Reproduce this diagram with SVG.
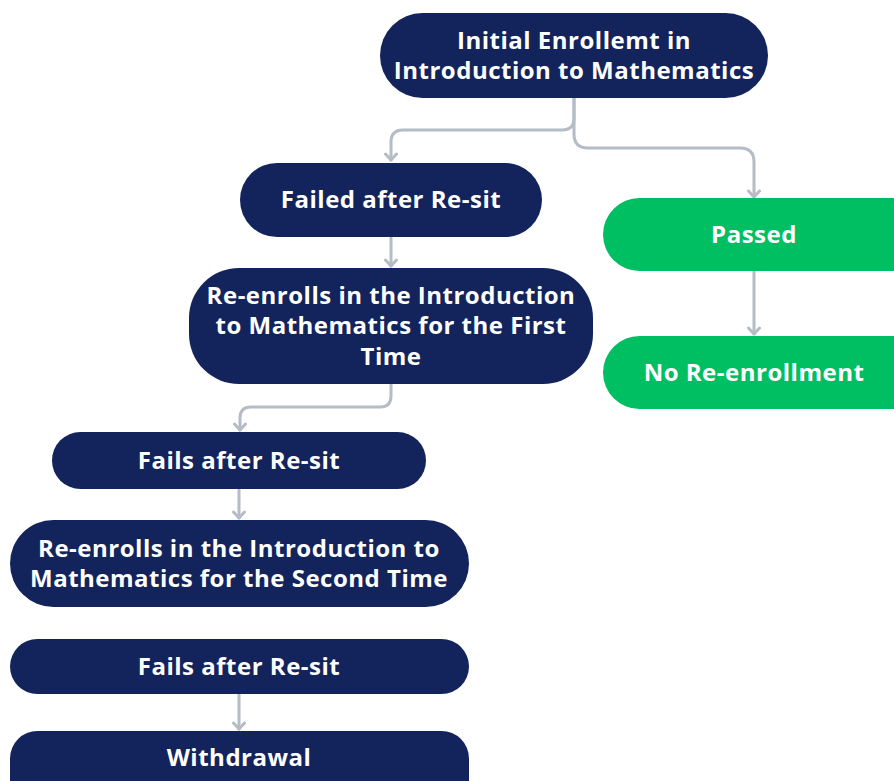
<svg xmlns="http://www.w3.org/2000/svg" width="894" height="781" viewBox="0 0 894 781">
<defs>
<style>
.navy{fill:#13245c}
.green{fill:#00bf63}
.t{font-family:"Open Sans","Liberation Sans",sans-serif;font-weight:700;font-size:24px;fill:#ffffff;text-anchor:middle;dominant-baseline:central;letter-spacing:0.5px}
.c{fill:none;stroke:#b4bcc5;stroke-width:3;stroke-linecap:round;stroke-linejoin:round}
</style>
<marker id="arr" viewBox="0 0 14 14" refX="7" refY="12" markerWidth="14" markerHeight="14" markerUnits="userSpaceOnUse" orient="0">
<path d="M1.5,6 L7,12 L12.5,6" fill="none" stroke="#b4bcc5" stroke-width="3" stroke-linecap="round" stroke-linejoin="round"/>
</marker>
</defs>
<rect width="894" height="781" fill="#ffffff"/>
<g id="connectors">
<path class="c" marker-end="url(#arr)" d="M574,98 V118 Q574,130 562,130 H403 Q391,130 391,142 V160"/>
<path class="c" marker-end="url(#arr)" d="M574,98 V134 Q574,148 588,148 H740 Q754,148 754,162 V197"/>
<path class="c" marker-end="url(#arr)" d="M391,237 V266"/>
<path class="c" marker-end="url(#arr)" d="M391,384 V396 Q391,407 380,407 H251 Q240,407 240,418 V430"/>
<path class="c" marker-end="url(#arr)" d="M239,489 V518"/>
<path class="c" marker-end="url(#arr)" d="M239,694 V729"/>
<path class="c" marker-end="url(#arr)" d="M754,271 V334"/>
</g>
<g id="n1"><rect class="navy" x="380" y="13" width="388" height="85" rx="42.5"/><text class="t" x="574" y="39">Initial Enrollemt in</text><text class="t" x="574" y="69">Introduction to Mathematics</text></g>
<g id="n2"><rect class="navy" x="240" y="163" width="302" height="74" rx="37"/><text class="t" x="391" y="198">Failed after Re-sit</text></g>
<g id="n3"><rect class="navy" x="189" y="268" width="404" height="116" rx="50"/><text class="t" x="391" y="294">Re-enrolls in the Introduction</text><text class="t" x="391" y="324">to Mathematics for the First</text><text class="t" x="391" y="355">Time</text></g>
<g id="n4"><rect class="navy" x="52" y="432" width="374" height="57" rx="28.5"/><text class="t" x="239" y="459">Fails after Re-sit</text></g>
<g id="n5"><rect class="navy" x="10" y="520" width="459" height="87" rx="43.5"/><text class="t" x="239" y="547">Re-enrolls in the Introduction to</text><text class="t" x="239" y="577">Mathematics for the Second Time</text></g>
<g id="n6"><rect class="navy" x="10" y="639" width="459" height="55" rx="27.5"/><text class="t" x="239" y="665">Fails after Re-sit</text></g>
<g id="n7"><rect class="navy" x="10" y="731" width="459" height="80" rx="27.5"/><text class="t" x="239" y="756">Withdrawal</text></g>
<g id="n8"><rect class="green" x="603" y="198" width="330" height="73" rx="36.5"/><text class="t" x="754" y="233">Passed</text></g>
<g id="n9"><rect class="green" x="603" y="336" width="330" height="73" rx="36.5"/><text class="t" x="754" y="371">No Re-enrollment</text></g>
</svg>
